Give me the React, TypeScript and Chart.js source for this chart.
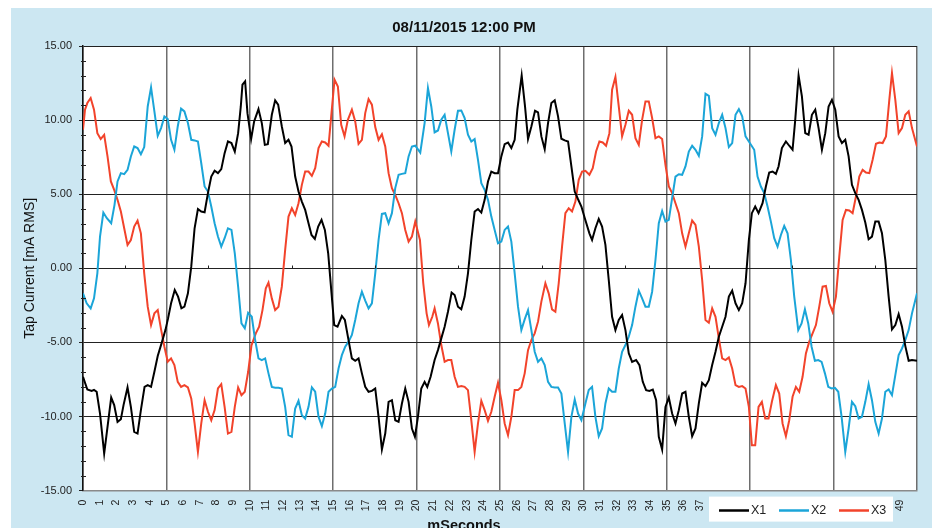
import React, { useEffect, useRef } from "react";
import { Chart, registerables } from "chart.js";

Chart.register(...registerables);

const FONT = '"Liberation Sans", Arial, Helvetica, sans-serif';

const chartTitle = "08/11/2015 12:00 PM";
const xAxisTitle = "mSeconds";
const yAxisTitle = "Tap Current [mA RMS]";
const seriesNames = ["X1", "X2", "X3"];
const seriesColors = ["#000000", "#1ba5d8", "#f2432b"];
const xTickLabels = [
  "0", "1", "2", "3", "4", "5", "6", "7", "8", "9",
  "10", "11", "12", "13", "14", "15", "16", "17", "18", "19",
  "20", "21", "22", "23", "24", "25", "26", "27", "28", "29",
  "30", "31", "32", "33", "34", "35", "36", "37", "38", "39",
  "40", "41", "42", "43", "44", "45", "46", "47", "48", "49",
];

// X1 (black): time in ms, current in mA RMS
const x1Time = [
  0, 0.26, 0.52, 0.66, 0.82, 1.02, 1.27, 1.47, 1.69, 1.87,
  2.07, 2.27, 2.43, 2.67, 2.87, 3.07, 3.27, 3.47, 3.69, 3.88,
  4.08, 4.28, 4.48, 4.74, 4.94, 5.10, 5.28, 5.50, 5.70, 5.90,
  6.08, 6.29, 6.49, 6.69, 6.89, 7.09, 7.29, 7.49, 7.69, 7.89,
  8.09, 8.29, 8.49, 8.69, 8.90, 9.10, 9.30, 9.46, 9.56, 9.72,
  9.86, 10.08, 10.26, 10.52, 10.72, 10.90, 11.08, 11.32, 11.52, 11.70,
  11.92, 12.12, 12.32, 12.50, 12.72, 12.92, 13.12, 13.32, 13.52, 13.70,
  13.90, 14.10, 14.30, 14.50, 14.70, 14.90, 15.06, 15.26, 15.52, 15.70,
  15.90, 16.12, 16.32, 16.52, 16.72, 16.92, 17.12, 17.32, 17.52, 17.72,
  17.92, 18.12, 18.32, 18.52, 18.72, 18.92, 19.12, 19.32, 19.52, 19.72,
  19.90, 20.08, 20.28, 20.48, 20.64, 20.84, 21.08, 21.28, 21.48, 21.68,
  21.88, 22.10, 22.28, 22.48, 22.68, 22.88, 23.08, 23.28, 23.48, 23.68,
  23.88, 24.08, 24.28, 24.48, 24.68, 24.88, 25.08, 25.28, 25.48, 25.68,
  25.88, 26.04, 26.30, 26.50, 26.68, 26.88, 27.10, 27.28, 27.48, 27.68,
  27.88, 28.08, 28.28, 28.48, 28.68, 28.88, 29.08, 29.28, 29.48, 29.68,
  29.88, 30.08, 30.36, 30.52, 30.72, 30.92, 31.12, 31.32, 31.52, 31.72,
  31.92, 32.12, 32.32, 32.52, 32.72, 32.92, 33.16, 33.36, 33.56, 33.76,
  33.96, 34.16, 34.36, 34.52, 34.72, 34.92, 35.12, 35.32, 35.52, 35.72,
  35.92, 36.12, 36.32, 36.52, 36.72, 36.92, 37.12, 37.32, 37.52, 37.72,
  37.92, 38.12, 38.32, 38.52, 38.72, 38.92, 39.12, 39.32, 39.52, 39.72,
  39.92, 40.10, 40.30, 40.50, 40.74, 40.94, 41.14, 41.34, 41.54, 41.70,
  41.90, 42.14, 42.34, 42.54, 42.70, 42.90, 43.10, 43.30, 43.50, 43.70,
  43.90, 44.10, 44.30, 44.50, 44.70, 44.90, 45.10, 45.30, 45.50, 45.70,
  45.90, 46.10, 46.30, 46.50, 46.70, 46.90, 47.10, 47.30, 47.50, 47.70,
  47.90, 48.10, 48.30, 48.50, 48.70, 48.90, 49.10, 49.30, 49.50, 49.70,
  50.00,
];
const x1Current = [
  -7.32, -8.18, -8.27, -8.2, -8.33, -9.8, -12.5, -10.7, -8.72, -9.23,
  -10.36, -10.18, -9.23, -8.04, -9.35, -11.04, -11.15, -9.57, -8.0, -7.88,
  -8.0, -6.98, -5.92, -4.95, -4.17, -3.38, -2.36, -1.46, -1.91, -2.7,
  -2.59, -1.69, 0.11, 2.7, 4.0, 3.83, 3.78, 5.07, 6.19, 6.58,
  6.42, 6.69, 7.77, 8.56, 8.45, 7.88, 9.12, 10.92, 12.39, 12.61,
  10.47, 8.72, 9.91, 10.74, 9.8, 8.33, 8.38, 10.36, 11.33, 11.04,
  9.57, 8.45, 8.67, 8.22, 6.19, 5.18, 4.5, 3.94, 3.04, 2.25,
  1.98, 2.82, 3.27, 2.59, 1.01, -1.69, -3.83, -3.94, -3.22, -3.49,
  -4.73, -6.08, -6.24, -6.08, -7.09, -8.0, -8.33, -8.27, -8.11, -10.02,
  -12.23, -11.15, -9.01, -8.9, -10.25, -10.36, -9.12, -8.11, -9.01, -10.81,
  -11.37, -10.02, -8.11, -7.66, -8.0, -7.32, -6.19, -5.52, -4.73, -3.94,
  -2.93, -1.64, -1.8, -2.59, -2.77, -1.91, -0.34, 1.91, 3.83, 3.99,
  3.76, 4.62, 5.86, 6.53, 6.42, 6.42, 7.55, 8.38, 8.49, 8.11,
  8.67, 10.7, 13.0, 10.92, 8.72, 9.57, 10.63, 10.52, 8.9, 8.04,
  9.8, 11.15, 11.33, 10.25, 8.74, 8.63, 8.56, 6.87, 5.18, 4.66,
  4.17, 3.4, 2.36, 1.91, 2.7, 3.33, 2.82, 1.58, -0.79, -3.27,
  -4.17, -3.49, -3.15, -4.17, -5.74, -6.31, -6.19, -6.53, -7.66, -8.22,
  -8.27, -8.18, -8.9, -11.37, -12.23, -9.35, -8.72, -9.8, -10.47, -9.57,
  -8.45, -8.33, -10.02, -11.33, -10.81, -9.12, -7.73, -7.95, -7.55, -6.53,
  -5.63, -4.62, -3.94, -3.27, -1.91, -1.51, -2.36, -2.82, -2.36, -1.01,
  1.91, 3.72, 4.17, 3.72, 4.39, 5.52, 6.46, 6.53, 6.37, 6.87,
  8.11, 8.56, 8.27, 8.0, 10.02, 13.0, 11.6, 9.12, 9.01, 10.36,
  10.7, 9.46, 8.0, 9.12, 10.92, 11.37, 10.7, 8.9, 8.45, 8.67,
  7.55, 5.63, 5.07, 4.62, 3.94, 3.09, 1.96, 2.14, 3.15, 3.15,
  2.36, 0.56, -1.91, -4.12, -3.83, -3.09, -3.94, -5.25, -6.24, -6.19,
  -6.24,
];

// X2 (blue)
const x2Time = [
  0, 0.22, 0.46, 0.66, 0.86, 1.02, 1.22, 1.43, 1.69, 1.89,
  2.07, 2.27, 2.47, 2.67, 2.87, 3.07, 3.27, 3.47, 3.67, 3.88,
  4.08, 4.28, 4.48, 4.68, 4.88, 5.08, 5.28, 5.48, 5.68, 5.88,
  6.08, 6.29, 6.49, 6.69, 6.89, 7.09, 7.29, 7.49, 7.69, 7.89,
  8.09, 8.29, 8.49, 8.69, 8.90, 9.10, 9.30, 9.50, 9.70, 9.90,
  10.12, 10.32, 10.52, 10.72, 10.92, 11.12, 11.32, 11.52, 11.72, 11.92,
  12.12, 12.32, 12.52, 12.72, 12.92, 13.12, 13.32, 13.52, 13.72, 13.92,
  14.12, 14.32, 14.52, 14.72, 14.92, 15.12, 15.32, 15.52, 15.72, 15.92,
  16.12, 16.32, 16.52, 16.72, 16.92, 17.12, 17.32, 17.52, 17.72, 17.92,
  18.12, 18.32, 18.52, 18.72, 18.92, 19.12, 19.32, 19.52, 19.72, 19.92,
  20.22, 20.48, 20.68, 20.88, 21.08, 21.28, 21.48, 21.68, 21.88, 22.08,
  22.28, 22.48, 22.68, 22.88, 23.08, 23.28, 23.48, 23.68, 23.88, 24.08,
  24.28, 24.48, 24.68, 24.88, 25.08, 25.28, 25.48, 25.68, 25.88, 26.08,
  26.28, 26.48, 26.68, 26.88, 27.08, 27.28, 27.48, 27.68, 27.88, 28.08,
  28.28, 28.48, 28.68, 28.88, 29.08, 29.28, 29.48, 29.68, 29.88, 30.12,
  30.32, 30.52, 30.72, 30.92, 31.12, 31.32, 31.52, 31.72, 31.92, 32.12,
  32.32, 32.52, 32.72, 32.92, 33.12, 33.32, 33.52, 33.72, 33.92, 34.12,
  34.32, 34.52, 34.72, 34.92, 35.12, 35.32, 35.52, 35.72, 35.92, 36.12,
  36.32, 36.52, 36.72, 36.92, 37.12, 37.32, 37.52, 37.72, 37.92, 38.12,
  38.32, 38.52, 38.72, 38.92, 39.12, 39.32, 39.52, 39.72, 39.92, 40.24,
  40.44, 40.64, 40.84, 41.04, 41.24, 41.44, 41.64, 41.84, 42.04, 42.24,
  42.44, 42.64, 42.88, 43.08, 43.28, 43.48, 43.68, 43.88, 44.08, 44.28,
  44.48, 44.68, 44.88, 45.08, 45.28, 45.48, 45.70, 45.90, 46.10, 46.30,
  46.50, 46.70, 46.90, 47.10, 47.30, 47.50, 47.70, 47.90, 48.10, 48.30,
  48.50, 48.70, 48.90, 49.10, 49.30, 49.50, 49.70, 50.00,
];
const x2Current = [
  -1.69, -2.36, -2.7, -2.03, -0.34, 2.14, 3.76, 3.38, 3.04, 4.28,
  5.86, 6.42, 6.35, 6.64, 7.55, 8.22, 8.11, 7.7, 8.18, 10.92,
  12.21, 10.59, 8.94, 9.46, 10.25, 10.07, 8.67, 8.0, 9.57, 10.77,
  10.59, 9.8, 8.67, 8.63, 8.56, 7.09, 5.52, 5.18, 4.17, 3.04,
  2.14, 1.46, 2.03, 2.7, 2.59, 1.01, -1.24, -3.72, -4.05, -3.0,
  -3.27, -4.84, -6.08, -6.19, -6.08, -7.09, -8.0, -8.06, -8.06, -8.11,
  -9.35, -11.26, -11.37, -9.46, -8.94, -9.91, -10.14, -9.35, -8.04, -8.33,
  -10.02, -10.65, -9.8, -8.33, -8.11, -8.0, -6.76, -5.86, -5.29, -4.95,
  -4.5, -3.49, -2.36, -1.58, -2.18, -2.7, -2.36, -0.34, 1.91, 3.67,
  3.72, 3.04, 3.72, 5.41, 6.31, 6.37, 6.42, 7.55, 8.22, 8.27,
  7.8, 9.8, 12.16, 10.92, 9.17, 9.3, 10.02, 10.36, 9.12, 7.88,
  9.35, 10.63, 10.65, 10.14, 9.01, 8.56, 8.72, 7.32, 5.74, 5.29,
  4.62, 3.49, 2.59, 1.69, 1.8, 2.59, 2.82, 1.8, -0.34, -2.59,
  -4.17, -3.45, -2.82, -4.17, -5.63, -6.31, -6.08, -6.53, -7.66, -8.0,
  -8.04, -8.04, -8.45, -10.47, -12.39, -10.02, -8.85, -9.8, -10.25, -9.12,
  -8.22, -8.0, -10.02, -11.33, -10.81, -9.12, -8.11, -8.33, -8.33, -6.76,
  -5.63, -5.18, -4.62, -3.83, -2.59, -1.51, -2.03, -2.59, -2.59, -1.58,
  0.56, 3.04, 3.87, 3.15, 3.27, 4.73, 6.19, 6.35, 6.31, 6.87,
  7.88, 8.27, 8.0, 7.59, 8.9, 11.78, 11.64, 9.46, 9.01, 9.8,
  10.36, 9.46, 8.18, 8.45, 10.36, 10.74, 10.25, 8.9, 8.56, 8.0,
  6.19, 5.52, 5.07, 4.17, 3.15, 2.03, 1.46, 2.25, 2.86, 2.36,
  0.56, -1.91, -4.17, -3.72, -2.77, -3.72, -5.29, -6.24, -6.19, -6.31,
  -7.09, -8.0, -8.11, -8.06, -8.33, -10.02, -12.39, -10.81, -9.01, -9.3,
  -10.14, -10.02, -9.01, -7.82, -8.9, -10.36, -11.15, -10.14, -8.33, -8.18,
  -8.56, -7.21, -5.86, -5.41, -4.84, -4.17, -3.04, -1.69,
];

// X3 (red)
const x3Time = [
  0, 0.12, 0.26, 0.46, 0.66, 0.86, 1.06, 1.27, 1.47, 1.67,
  1.87, 2.07, 2.27, 2.47, 2.67, 2.87, 3.07, 3.27, 3.47, 3.67,
  3.88, 4.08, 4.28, 4.48, 4.68, 4.88, 5.08, 5.28, 5.48, 5.68,
  5.88, 6.08, 6.29, 6.49, 6.69, 6.89, 7.09, 7.29, 7.49, 7.69,
  7.89, 8.09, 8.29, 8.49, 8.69, 8.90, 9.10, 9.30, 9.50, 9.70,
  9.90, 10.10, 10.36, 10.56, 10.76, 10.96, 11.12, 11.32, 11.52, 11.72,
  11.92, 12.12, 12.32, 12.52, 12.72, 12.92, 13.12, 13.32, 13.52, 13.72,
  13.92, 14.12, 14.32, 14.52, 14.72, 14.88, 15.08, 15.28, 15.48, 15.68,
  15.88, 16.12, 16.32, 16.52, 16.72, 16.92, 17.12, 17.32, 17.52, 17.72,
  17.92, 18.12, 18.32, 18.52, 18.72, 18.92, 19.12, 19.32, 19.52, 19.72,
  19.92, 20.20, 20.40, 20.60, 20.74, 20.94, 21.08, 21.28, 21.48, 21.68,
  21.88, 22.08, 22.28, 22.48, 22.68, 22.88, 23.08, 23.28, 23.48, 23.68,
  23.88, 24.08, 24.28, 24.48, 24.68, 24.88, 25.08, 25.28, 25.48, 25.68,
  25.88, 26.08, 26.28, 26.48, 26.68, 26.88, 27.08, 27.28, 27.48, 27.72,
  27.92, 28.12, 28.32, 28.52, 28.72, 28.92, 29.12, 29.32, 29.52, 29.72,
  29.92, 30.12, 30.36, 30.56, 30.76, 30.96, 31.16, 31.36, 31.56, 31.72,
  31.92, 32.12, 32.32, 32.52, 32.72, 32.92, 33.12, 33.32, 33.52, 33.72,
  33.92, 34.12, 34.32, 34.52, 34.72, 34.92, 35.12, 35.32, 35.52, 35.72,
  35.92, 36.12, 36.32, 36.52, 36.72, 36.92, 37.12, 37.32, 37.52, 37.72,
  37.92, 38.12, 38.32, 38.52, 38.72, 38.92, 39.12, 39.32, 39.52, 39.72,
  39.92, 40.10, 40.30, 40.50, 40.70, 40.90, 41.10, 41.30, 41.54, 41.74,
  41.94, 42.14, 42.34, 42.54, 42.74, 42.94, 43.14, 43.34, 43.54, 43.74,
  43.94, 44.14, 44.34, 44.54, 44.74, 44.94, 45.14, 45.34, 45.54, 45.74,
  45.94, 46.14, 46.34, 46.54, 46.74, 46.94, 47.14, 47.34, 47.54, 47.74,
  47.94, 48.14, 48.34, 48.50, 48.70, 48.90, 49.10, 49.30, 49.50, 49.70,
  50.00,
];
const x3Current = [
  9.35, 10.7, 11.15, 11.49, 10.7, 9.12, 8.72, 9.01, 7.55, 5.86,
  5.29, 4.62, 3.83, 2.7, 1.58, 1.91, 2.82, 3.22, 2.36, -0.34,
  -2.59, -3.83, -3.04, -2.82, -4.12, -5.29, -6.31, -6.08, -6.53, -7.66,
  -8.0, -7.88, -8.04, -8.78, -10.47, -12.39, -10.47, -8.9, -9.68, -10.25,
  -9.57, -8.11, -7.82, -9.35, -11.15, -11.04, -9.35, -8.04, -8.56, -8.33,
  -7.0, -5.2, -4.39, -3.94, -2.82, -1.35, -0.97, -2.03, -2.82, -2.59,
  -1.24, 1.24, 3.49, 4.05, 3.6, 4.39, 5.63, 6.53, 6.53, 6.24,
  6.76, 8.11, 8.56, 8.49, 8.27, 10.25, 12.73, 12.27, 9.68, 8.9,
  10.02, 10.7, 9.91, 8.4, 8.67, 10.47, 11.42, 11.04, 9.53, 8.67,
  9.05, 8.22, 6.42, 5.41, 4.95, 4.39, 3.72, 2.59, 1.8, 2.14,
  3.15, 1.91, -1.01, -3.04, -3.83, -3.27, -2.7, -3.72, -5.18, -6.31,
  -6.19, -6.19, -7.32, -8.0, -7.95, -8.0, -8.22, -10.25, -12.39, -10.47,
  -8.94, -9.57, -10.29, -9.68, -8.67, -7.73, -8.9, -10.47, -11.26, -10.02,
  -8.22, -8.22, -8.0, -7.09, -5.52, -4.84, -4.39, -3.6, -2.25, -1.01,
  -1.69, -2.77, -2.93, -1.01, 1.46, 3.72, 4.05, 3.83, 4.5, 5.97,
  6.53, 6.58, 6.31, 6.76, 7.88, 8.56, 8.49, 8.27, 9.12, 12.05,
  12.91, 10.92, 8.9, 9.68, 10.63, 10.36, 8.78, 8.33, 10.02, 11.26,
  11.26, 10.14, 8.78, 8.9, 8.72, 6.98, 5.52, 5.07, 4.39, 3.72,
  2.36, 1.46, 2.36, 3.22, 2.93, 1.46, -0.79, -3.49, -3.67, -2.7,
  -3.27, -4.73, -6.08, -6.19, -6.01, -6.76, -7.88, -8.0, -7.95, -8.11,
  -9.35, -11.94, -11.94, -9.35, -9.01, -10.14, -10.14, -9.01, -7.88, -8.45,
  -10.47, -11.33, -10.25, -8.67, -8.0, -8.33, -7.32, -5.74, -4.95, -4.39,
  -3.83, -2.59, -1.24, -1.19, -2.36, -2.93, -1.91, 0.79, 3.27, 3.94,
  3.9, 3.72, 4.84, 6.19, 6.64, 6.46, 6.42, 7.32, 8.4, 8.49,
  8.45, 8.9, 11.37, 13.18, 11.37, 9.12, 9.46, 10.36, 10.59, 9.46,
  8.22,
];

const CANVAS_W = 921;
const CANVAS_H = 530;
const PAGE_BG = "#cce7f2";

export default function App() {
  const canvasRef = useRef<HTMLCanvasElement | null>(null);

  useEffect(() => {
    const canvas = canvasRef.current;
    if (!canvas) return;

    const times = [x1Time, x2Time, x3Time];
    const values = [x1Current, x2Current, x3Current];
    const toPoints = (t: number[], v: number[]) => t.map((x, i) => ({ x, y: v[i] }));

    const decor = {
      id: "decor",
      beforeDraw(chart: any) {
        const { ctx, chartArea: a, width, height } = chart;
        ctx.save();
        ctx.fillStyle = PAGE_BG;
        ctx.fillRect(0, 0, width, height);
        ctx.fillStyle = "#ffffff";
        ctx.fillRect(a.left, a.top, a.right - a.left, a.bottom - a.top);
        ctx.restore();
      },
      afterDraw(chart: any) {
        const { ctx, chartArea: a, scales } = chart;
        const ys = scales.y;
        const xs = scales.x;
        ctx.save();
        ctx.strokeStyle = "#222";
        ctx.lineWidth = 1;
        // minor ticks on the value axis
        for (let v = ys.min; v <= ys.max; v += 1) {
          if (v % 5 === 0) continue;
          const py = Math.round(ys.getPixelForValue(v)) + 0.5;
          ctx.beginPath();
          ctx.moveTo(a.left - 2, py);
          ctx.lineTo(a.left + 3, py);
          ctx.stroke();
        }
        // small tick marks on the zero line
        const y0 = Math.round(ys.getPixelForValue(0)) + 0.5;
        for (let t = 2.5; t < xs.max; t += 5) {
          const px = Math.round(xs.getPixelForValue(t)) + 0.5;
          ctx.beginPath();
          ctx.moveTo(px, y0 - 3);
          ctx.lineTo(px, y0);
          ctx.stroke();
        }
        // legend box (overlapping the axis labels as in the original)
        const boxW = 184;
        const boxH = 25;
        const boxL = a.right - 208;
        const boxT = a.bottom + 6;
        ctx.fillStyle = "#ffffff";
        ctx.fillRect(boxL, boxT, boxW, boxH);
        ctx.font = `12.5px ${FONT}`;
        ctx.textBaseline = "middle";
        ctx.textAlign = "left";
        seriesNames.forEach((name, i) => {
          const lx = boxL + 10 + i * 60;
          const ly = Math.round(boxT + 13) + 0.5;
          ctx.strokeStyle = seriesColors[i];
          ctx.lineWidth = 2.5;
          ctx.beginPath();
          ctx.moveTo(lx, ly);
          ctx.lineTo(lx + 30, ly);
          ctx.stroke();
          ctx.fillStyle = "#222";
          ctx.fillText(name, lx + 32, ly + 0.5);
        });
        ctx.restore();
      },
    };

    const chart = new Chart(canvas, {
      type: "line",
      data: {
        datasets: seriesNames.map((name, i) => ({
          label: name,
          data: toPoints(times[i], values[i]),
          borderColor: seriesColors[i],
          backgroundColor: seriesColors[i],
          borderWidth: 2,
          pointRadius: 0,
          pointHoverRadius: 0,
          tension: 0,
          fill: false,
        })),
      },
      options: {
        responsive: false,
        animation: false,
        devicePixelRatio: 1,
        layout: { padding: { left: 0, right: 15, top: 0, bottom: 0 } },
        plugins: {
          legend: { display: false },
          tooltip: { enabled: false },
          title: {
            display: true,
            text: chartTitle,
            color: "#111",
            font: { family: FONT, size: 15, weight: "bold" },
            padding: { top: 11, bottom: 9 },
          },
          subtitle: {
            display: true,
            position: "bottom",
            text: xAxisTitle,
            color: "#111",
            font: { family: FONT, size: 14.5, weight: "bold" },
            padding: { top: 0, bottom: 3 },
          },
        },
        scales: {
          x: {
            type: "linear",
            min: 0,
            max: 50,
            afterFit: (s: any) => {
              s.height = 27;
              s.paddingLeft = 0;
              s.paddingRight = 0;
            },
            ticks: {
              stepSize: 1,
              autoSkip: false,
              maxRotation: 90,
              minRotation: 90,
              padding: 9,
              color: "#222",
              font: { family: FONT, size: 10.5 },
              callback: (v: any) => xTickLabels[v as number] ?? "",
            },
            grid: {
              drawTicks: false,
              color: (c: any) =>
                c.tick && c.tick.value % 5 === 0 ? "#6e6e6e" : "rgba(0,0,0,0)",
              lineWidth: 1.5,
            },
            border: { color: "#8a8a8a", width: 1.5 },
          },
          y: {
            min: -15,
            max: 15,
            afterFit: (s: any) => {
              s.width = 72;
            },
            ticks: {
              stepSize: 5,
              padding: 7,
              color: "#222",
              font: { family: FONT, size: 11 },
              callback: (v: any) => Number(v).toFixed(2),
            },
            grid: { color: "#222", lineWidth: 1, tickLength: 4 },
            border: { color: "#111", width: 1.5 },
            title: {
              display: true,
              text: yAxisTitle,
              color: "#111",
              font: { family: FONT, size: 14 },
              padding: { top: 11, bottom: 0 },
            },
          },
        },
      },
      plugins: [decor],
    } as any);

    return () => chart.destroy();
  }, []);

  return (
    <div style={{ position: "fixed", left: 11, top: 8, width: CANVAS_W, height: CANVAS_H }}>
      <canvas ref={canvasRef} width={CANVAS_W} height={CANVAS_H} />
    </div>
  );
}
